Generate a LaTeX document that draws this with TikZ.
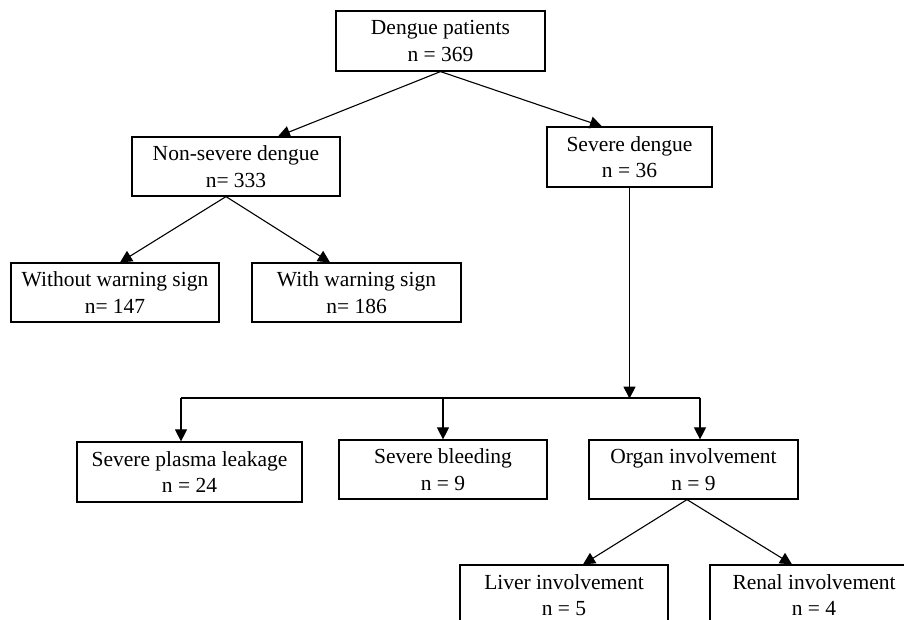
\documentclass[tikz,border=0pt]{standalone}
\usepackage{fontspec}
\setmainfont{Liberation Serif}
\usetikzlibrary{arrows.meta, calc}

\begin{document}
\begin{tikzpicture}[
    x=1pt, y=-1pt,
    >={Triangle[length=12pt, width=12pt]},
    every text node part/.style={align=center},
    box/.style={draw=black, line width=1.2pt, fill=white, inner sep=0pt, minimum width=208pt, minimum height=60pt, font=\fontsize{21.5}{26.5}\selectfont},
    link/.style={draw=black, line width=1.1pt, ->},
    trunk/.style={draw=black, line width=1.1pt}
]
\useasboundingbox[fill=white] (0,0) rectangle (904,620);

% ==================== ALL PATIENTS ====================
\node[box, minimum width=209pt] (pat) at (440.5,41) {Dengue patients\\n = 369};

% ==================== CLASSIFICATION ====================
\node[box, minimum height=59pt] (nonsev) at (236,166.5) {Non-severe dengue\\n= 333};
\node[box, minimum width=165pt] (sev) at (629.5,157) {Severe dengue\\n = 36};

\draw[link] (pat.south) -- ($(nonsev.north)+(42,0)$);
\draw[link] (pat.south) -- ($(sev.north)+(-27.5,0)$);

% ==================== WARNING SIGNS ====================
\node[box, minimum height=59pt] (without) at (115,292.5) {Without warning sign\\n= 147};
\node[box, minimum width=209pt, minimum height=59pt] (with) at (356.5,292.5) {With warning sign\\n= 186};

\draw[link] ($(nonsev.south)+(-10,0)$) -- ($(without.north)+(5,0)$);
\draw[link] ($(nonsev.south)+(-10,0)$) -- ($(with.north)+(-26.5,0)$);

% ==================== SEVERE FORMS ====================
\node[box, minimum width=225pt] (plasma) at (189.5,472) {Severe plasma leakage\\n = 24};
\node[box, minimum height=59pt] (bleed) at (443,469.5) {Severe bleeding\\n = 9};
\node[box, minimum width=209pt, minimum height=59pt] (organ) at (693.5,469.5) {Organ involvement\\n = 9};

\coordinate (split) at ($(sev.south)+(0,211)$);
\coordinate (hl) at (181,398);
\coordinate (hr) at (700,398);

\draw[link] (sev.south) -- (split);
\draw[trunk] (hl) -- (hr);
\draw[link] (hl) -- (hl |- plasma.north);
\draw[link] (bleed.north |- hl) -- (bleed.north);
\draw[link] (hr) -- (hr |- organ.north);

% ==================== ORGANS ====================
\node[box] (liver) at (564,595) {Liver involvement\\n = 5};
\node[box] (renal) at (814,595) {Renal involvement\\n = 4};

\draw[link] ($(organ.south)+(-6.5,0)$) -- ($(liver.north)+(19,0)$);
\draw[link] ($(organ.south)+(-6.5,0)$) -- ($(renal.north)+(-22,0)$);

\end{tikzpicture}
\end{document}
